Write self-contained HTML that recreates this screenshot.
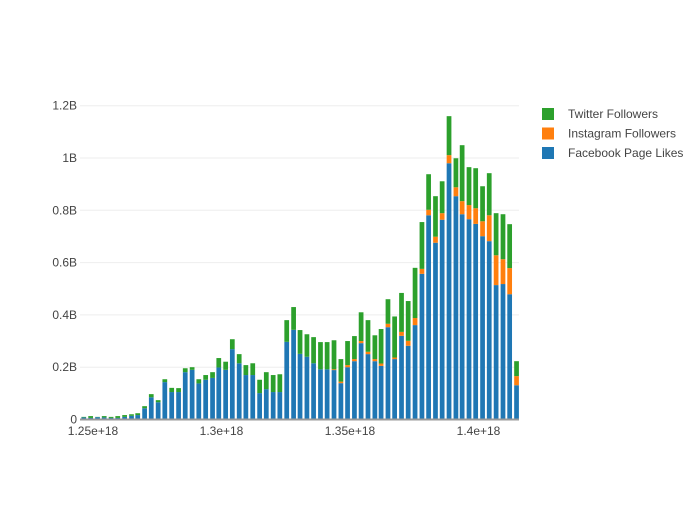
<!DOCTYPE html>
<html><head><meta charset="utf-8"><style>
body{margin:0;background:#fff;font-family:"Liberation Sans",sans-serif}
svg text{font-family:"Liberation Sans",sans-serif;fill:#444;font-size:12px}
</style></head><body>
<svg id="chart" width="700" height="500" xmlns="http://www.w3.org/2000/svg">
<g id="grid"></g>
<g id="bars"></g>
<g id="axes"></g>
<g id="legend"></g>
</svg>
<script>
const startYear = 2009, startMonth = 6; // July 2009 (0-based month)
const facebookLikes = [8,6,9,8,6,6,10,14,17,43,85,66,143,105,105,181,190,138,152,159,199,190,269,215,170,170,101,116,105,105,297,343,251,240,215,192,192,189,139,200,223,292,250,223,205,353,231,320,282,361,557,781,676,764,980,854,785,766,748,701,682,514,518,479,131];
const instagramFollowers = [0,0,0,0,0,0,0,0,0,0,0,0,0,0,0,0,0,0,0,0,0,0,0,0,0,0,0,0,0,0,0,0,0,0,0,0,0,3,6,8,8,8,9,8,9,13,6,15,19,27,19,21,23,25,31,34,50,54,60,57,99,114,95,100,35];
const twitterFollowers = [2,7,1,5,4,7,7,6,7,8,12,8,11,16,15,15,10,16,18,22,36,31,38,35,38,45,51,65,65,68,83,87,91,86,100,104,104,111,86,92,88,110,121,91,132,94,157,149,152,192,179,136,155,122,149,111,214,145,153,134,161,161,172,168,57];
const yTicks = [0,200,400,600,800,1000,1200];
const yTickLabels = ["0","0.2B","0.4B","0.6B","0.8B","1B","1.2B"];
const xTicks = [1.25e18,1.3e18,1.35e18,1.4e18];
const xTickLabels = ["1.25e+18","1.3e+18","1.35e+18","1.4e+18"];
const seriesNames = ["Twitter Followers","Instagram Followers","Facebook Page Likes"];
const seriesColors = ["#2ca02c","#ff7f0e","#1f77b4"];

const NS = "http://www.w3.org/2000/svg";
const L = 80, R = 519, Y0 = 419.5, PXB = 261.5/1000;
const xs = t => 93 + (t - 1.25e18) / 5e16 * 128.5;
const ys = v => Y0 - v * PXB;
function mk(tag, attrs, parent){const e=document.createElementNS(NS,tag);for(const k in attrs)e.setAttribute(k,attrs[k]);parent.appendChild(e);return e;}
const grid=document.getElementById('grid'),bars=document.getElementById('bars'),axes=document.getElementById('axes'),legend=document.getElementById('legend');

yTicks.forEach((v,i)=>{
  if(i>0){const g=mk('line',{x1:L,x2:R,y1:ys(v),y2:ys(v),stroke:'#eee','stroke-width':1},grid);
  
  }
  const t=mk('text',{x:77,y:ys(v)+4,'text-anchor':'end'},axes);t.textContent=yTickLabels[i];
  
  
});
xTicks.forEach((v,i)=>{
  const t=mk('text',{x:xs(v),y:435,'text-anchor':'middle'},axes);t.textContent=xTickLabels[i];
  
  
});

const month=2.63e15*0.7;
facebookLikes.forEach((fb,i)=>{
  const t=Date.UTC(startYear,startMonth+i,1)*1e6;
  const x=xs(t-month/2), w=xs(t+month/2)-x;
  const stack=[[fb,2],[instagramFollowers[i],1],[twitterFollowers[i],0]];
  let base=0;
  stack.forEach(([v,s])=>{
    if(v<=0)return;
    const r=mk('rect',{x:x,width:w,y:ys(base+v),height:ys(base)-ys(base+v),fill:seriesColors[s]},bars);
    
    
    base+=v;
  });
});
const zl=mk('line',{x1:L,x2:R,y1:Y0,y2:Y0,stroke:'#999','stroke-width':2},axes);



seriesNames.forEach((n,i)=>{
  const y=114+i*19.5;
  const r=mk('rect',{x:542,y:y-6,width:12,height:12,fill:seriesColors[i]},legend);
  
  
  const t=mk('text',{x:568,y:y+4},legend);t.textContent=n;
  
  
});
</script>
</body></html>
